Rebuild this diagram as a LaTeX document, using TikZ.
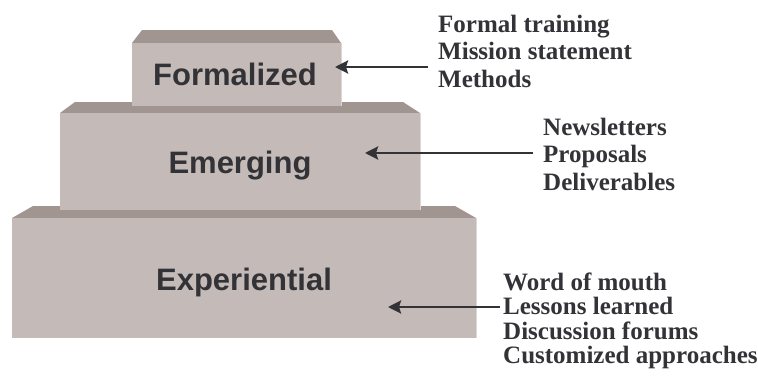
\documentclass[tikz,border=0pt]{standalone}
\usepackage{fontspec}
\setmainfont{Liberation Serif}
\newfontfamily\blockfont{Liberation Sans}
\usetikzlibrary{arrows.meta}
\definecolor{faceclr}{HTML}{C4BBB8}
\definecolor{topclr}{HTML}{A19592}
\definecolor{edgeclr}{HTML}{DCD6D4}
\definecolor{inkclr}{HTML}{333337}

\begin{document}
\begin{tikzpicture}[x=1pt,y=-1pt,
    tier/.style={font=\blockfont\bfseries\fontsize{31}{31}\selectfont,text=inkclr,inner sep=0pt,anchor=base},
    items/.style={font=\bfseries\fontsize{25}{27.5}\selectfont,text=inkclr,inner sep=0pt,anchor=base west,align=left},
    arr/.style={-{Stealth[length=13pt,width=13pt,inset=2pt]},line width=2.5pt,color=inkclr,shorten <=10pt}]
      \useasboundingbox (0,0) rectangle (758,380);
      \fill[topclr] (33,206)--(455,206)--(476,218)--(12,218)--cycle;
      \fill[faceclr] (12,218) rectangle (476,338);
      \draw[edgeclr] (476,218)--(476,338);
      \fill[topclr] (75,102)--(403,102)--(420,113)--(60,113)--cycle;
      \fill[faceclr] (60,113) rectangle (420,210);
      \draw[edgeclr] (420,113)--(420,210);
      \fill[topclr] (142,30)--(332,30)--(341,43)--(132,43)--cycle;
      \fill[faceclr] (132,43) rectangle (341,106);
      \draw[edgeclr] (341,43)--(341,106);
      \node[tier] (formalized) at (235,85) {Formalized};
      \node[tier] (emerging) at (240,173) {Emerging};
      \node[tier] (experiential) at (244,290) {Experiential};
      \node[items] (formallist) at (438,87) {Formal training\\Mission statement\\Methods};
      \node[items] (emerginglist) at (543,190) {Newsletters\\Proposals\\Deliverables};
      \node[items,font=\bfseries\fontsize{25}{24.5}\selectfont] (experientiallist) at (503,363.5) {Word of mouth\\Lessons learned\\Discussion forums\\Customized approaches};
      \coordinate (formaltip) at (335,67);
      \coordinate (emergingtip) at (365,153);
      \coordinate (experientialtip) at (388,307);
      \draw[arr] (formallist.west |- formaltip)--(formaltip);
      \draw[arr] (emerginglist.west |- emergingtip)--(emergingtip);
      \draw[arr,shorten <=3pt] (experientiallist.west |- experientialtip)--(experientialtip);
    \end{tikzpicture}
\end{document}
